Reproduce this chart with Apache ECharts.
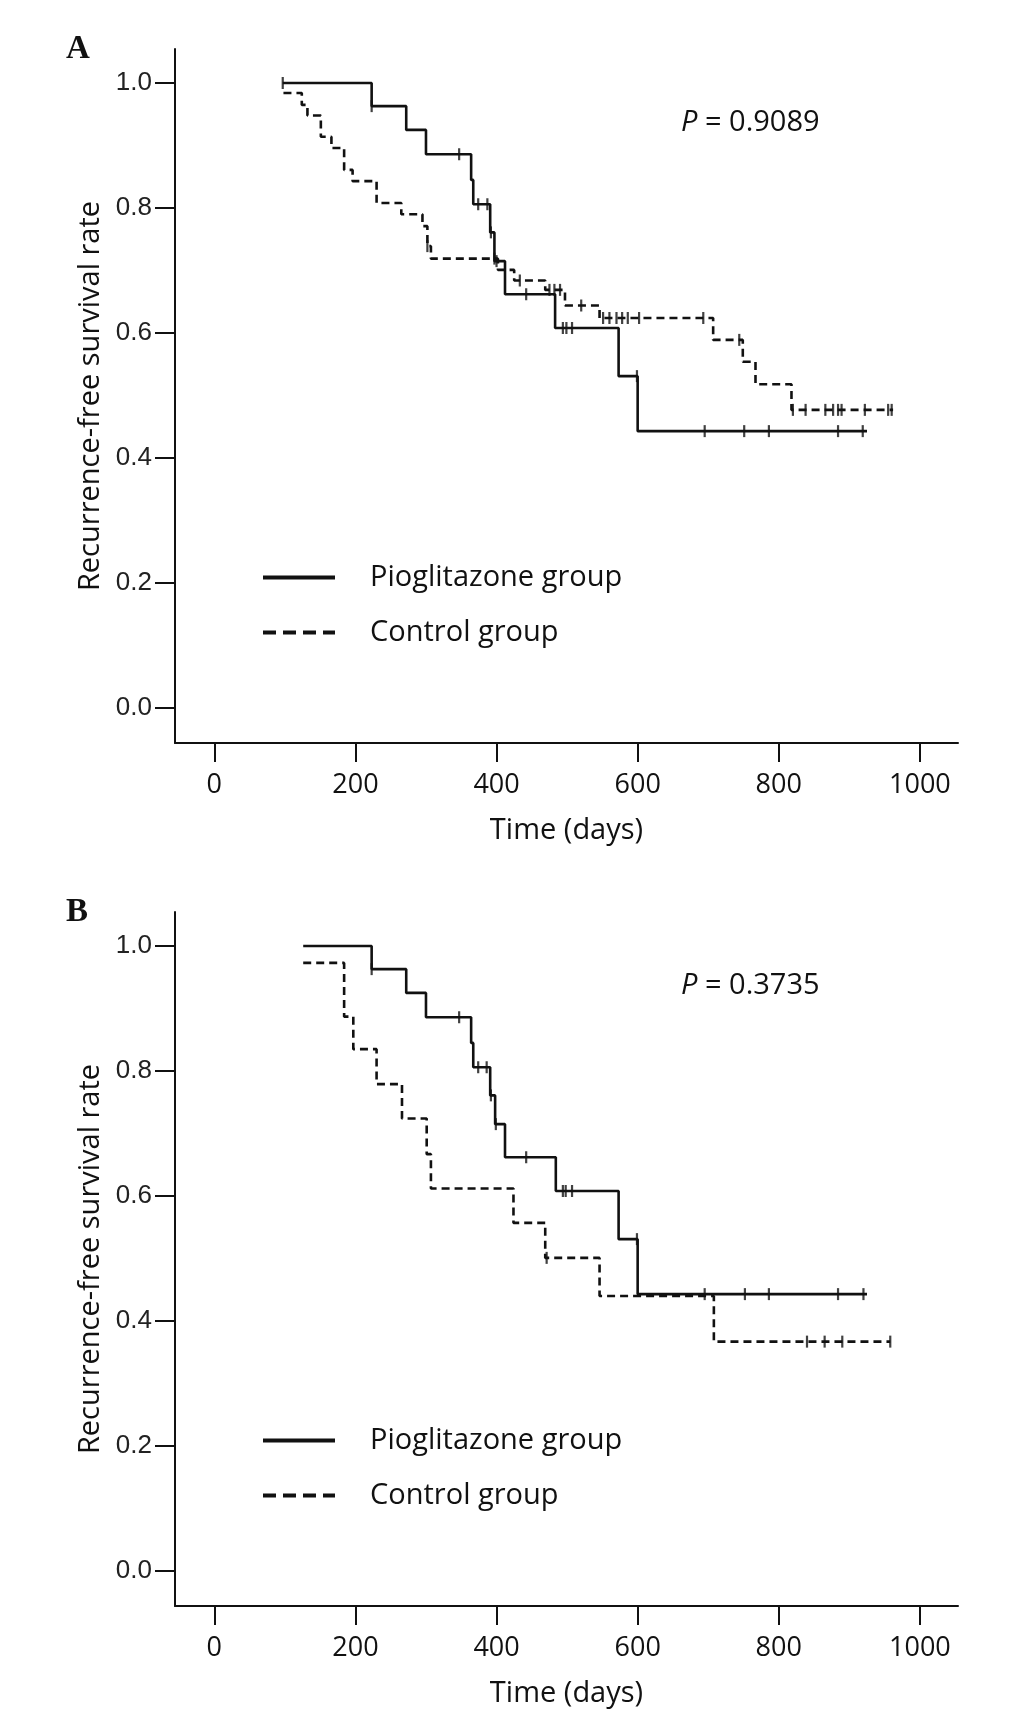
<!DOCTYPE html>
<html>
<head>
<meta charset="utf-8">
<title>Recurrence-free survival</title>
<script src="https://cdn.jsdelivr.net/npm/echarts@6/dist/echarts.min.js"></script>
<style>
  html, body { margin: 0; padding: 0; background: #fff; }
  #chart { width: 1033px; height: 1716px; }
</style>
</head>
<body>
<div id="chart"></div>
<script>
// tick labels
const xTicks = [0, 200, 400, 600, 800, 1000]
const yTicks = [0, 0.2, 0.4, 0.6, 0.8, 1.0]
const groupNames = ['Pioglitazone group', 'Control group']
const pValues = ['0.9089', '0.3735']

// panel A: [day, survival] after each drop, last point = end of follow-up
const pioA = [[97, 1.0], [223, 0.963], [272, 0.925], [300, 0.886], [364, 0.845], [367, 0.806],
  [391, 0.761], [397, 0.715], [412, 0.662], [483, 0.608], [573, 0.531], [600, 0.443], [925, 0.443]]
const pioACensor = [[97, 1.0], [223, 0.963], [347, 0.886], [374, 0.806], [387, 0.806], [392, 0.761],
  [400, 0.715], [442, 0.662], [494, 0.608], [499, 0.608], [507, 0.608], [599, 0.531],
  [695, 0.443], [751, 0.443], [786, 0.443], [884, 0.443], [919, 0.443]]
const ctrlA = [[98, 0.984], [124, 0.965], [132, 0.948], [151, 0.914], [166, 0.896], [184, 0.861],
  [196, 0.843], [230, 0.808], [265, 0.790], [295, 0.771], [302, 0.739], [307, 0.719], [402, 0.701],
  [425, 0.684], [469, 0.669], [497, 0.644], [546, 0.624], [707, 0.589], [749, 0.554], [767, 0.518],
  [818, 0.477], [962, 0.477]]
const ctrlACensor = [[302, 0.739], [397, 0.719], [433, 0.684], [475, 0.669], [482, 0.669], [490, 0.669],
  [520, 0.644], [551, 0.624], [560, 0.624], [570, 0.624], [578, 0.624], [586, 0.624], [602, 0.624],
  [693, 0.624], [744, 0.589], [820, 0.477], [838, 0.477], [866, 0.477], [877, 0.477], [884, 0.477],
  [889, 0.477], [922, 0.477], [955, 0.477], [960, 0.477]]

// panel B
const pioB = [[126, 1.0], [223, 0.963], [272, 0.925], [300, 0.886], [364, 0.845], [367, 0.806],
  [391, 0.761], [398, 0.715], [412, 0.662], [484, 0.608], [573, 0.531], [600, 0.443], [925, 0.443]]
const pioBCensor = [[223, 0.963], [347, 0.886], [374, 0.806], [386, 0.806], [392, 0.761], [399, 0.715],
  [442, 0.662], [494, 0.608], [498, 0.608], [507, 0.608], [599, 0.531],
  [695, 0.443], [752, 0.443], [786, 0.443], [884, 0.443], [920, 0.443]]
const ctrlB = [[126, 0.973], [184, 0.887], [197, 0.835], [230, 0.779], [266, 0.724], [301, 0.667],
  [307, 0.612], [424, 0.557], [469, 0.501], [546, 0.440], [708, 0.367], [958, 0.367]]
const ctrlBCensor = [[471, 0.501], [840, 0.367], [865, 0.367], [890, 0.367], [958, 0.367]]

const ink = '#111'
const panelTop = [49, 912]
// legend keys drawn as bars: one solid, one in four dashes
const legendIcons = [
  'path://M0,0H72V4H0Z',
  'path://M0,0H13V4H0Z M20,0H33V4H20Z M40,0H53V4H40Z M60,0H72V4H60Z',
]

function xAxis(i) {
  return {
    gridIndex: i,
    type: 'value',
    min: -55.7,
    max: 1054,
    name: 'Time (days)',
    nameLocation: 'middle',
    nameGap: 73,
    nameTextStyle: { fontFamily: 'Open Sans', fontSize: 29, color: ink },
    axisLine: { onZero: false, lineStyle: { color: ink, width: 2 } },
    axisTick: { length: 19, customValues: xTicks, lineStyle: { color: ink, width: 2 } },
    axisLabel: {
      customValues: xTicks,
      margin: 29,
      fontFamily: 'Open Sans',
      fontSize: 27,
      color: ink,
      formatter: (v) => String(v),
    },
    splitLine: { show: false },
  }
}
function yAxis(i) {
  return {
    gridIndex: i,
    type: 'value',
    min: -0.056,
    max: 1.0544,
    name: 'Recurrence-free survival rate',
    nameLocation: 'middle',
    nameGap: 70,
    nameTextStyle: { fontFamily: 'Open Sans', fontSize: 29, color: ink },
    axisLine: { onZero: false, lineStyle: { color: ink, width: 2 } },
    axisTick: { length: 20, customValues: yTicks, lineStyle: { color: ink, width: 2 } },
    axisLabel: {
      customValues: yTicks,
      margin: 23,
      fontFamily: 'Liberation Sans',
      fontSize: 26,
      color: '#222',
      formatter: (v) => v.toFixed(1),
    },
    splitLine: { show: false },
  }
}
function stepLine(name, data, i, dashed) {
  return {
    name: name,
    type: 'line',
    step: 'end',
    xAxisIndex: i,
    yAxisIndex: i,
    symbol: 'none',
    lineStyle: { color: ink, width: 2.6, type: dashed ? [8, 5] : 'solid' },
    itemStyle: { color: ink },
    data: data,
  }
}
function censor(name, data, i) {
  return {
    name: name,
    type: 'scatter',
    xAxisIndex: i,
    yAxisIndex: i,
    symbol: 'rect',
    symbolSize: [2.2, 12],
    itemStyle: { color: ink },
    data: data,
  }
}
function legend(i) {
  return {
    orient: 'vertical',
    left: 258,
    top: 558 + panelTop[i] - 49,
    itemWidth: 72,
    itemHeight: 4,
    itemGap: 26,
    data: groupNames.map((n, k) => ({ name: n, icon: legendIcons[k] })),
    itemStyle: { color: ink },
    lineStyle: { width: 0 },
    textStyle: { fontFamily: 'Open Sans', fontSize: 29, color: ink, padding: [0, 0, 0, 30] },
  }
}
function pTitle(i) {
  return {
    text: '{i|P} = ' + pValues[i],
    left: 681,
    top: 108 + panelTop[i] - 49,
    padding: 0,
    textStyle: {
      fontFamily: 'Open Sans', fontSize: 29, fontWeight: 'normal', color: ink,
      rich: { i: { fontFamily: 'Open Sans', fontSize: 29, fontStyle: 'italic', color: ink } },
    },
  }
}
function panelTitle(i) {
  return {
    text: i === 0 ? 'A' : 'B',
    left: 66,
    top: 33 + panelTop[i] - 49,
    padding: 0,
    textStyle: { fontFamily: 'Liberation Serif', fontWeight: 'bold', fontSize: 33, color: ink },
  }
}

const option = {
  backgroundColor: '#fff',
  animation: false,
  title: [panelTitle(0), panelTitle(1), pTitle(0), pTitle(1)],
  legend: [legend(0), legend(1)],
  grid: panelTop.map((t) => ({ left: 175, top: t, width: 783, height: 694, containLabel: false })),
  xAxis: [xAxis(0), xAxis(1)],
  yAxis: [yAxis(0), yAxis(1)],
  series: [
    stepLine(groupNames[0], pioA, 0, false),
    stepLine(groupNames[1], ctrlA, 0, true),
    censor('Pioglitazone censored', pioACensor, 0),
    censor('Control censored', ctrlACensor, 0),
    stepLine(groupNames[0], pioB, 1, false),
    stepLine(groupNames[1], ctrlB, 1, true),
    censor('Pioglitazone censored', pioBCensor, 1),
    censor('Control censored', ctrlBCensor, 1),
  ],
}
echarts.init(document.getElementById('chart')).setOption(option)
</script>
</body>
</html>
